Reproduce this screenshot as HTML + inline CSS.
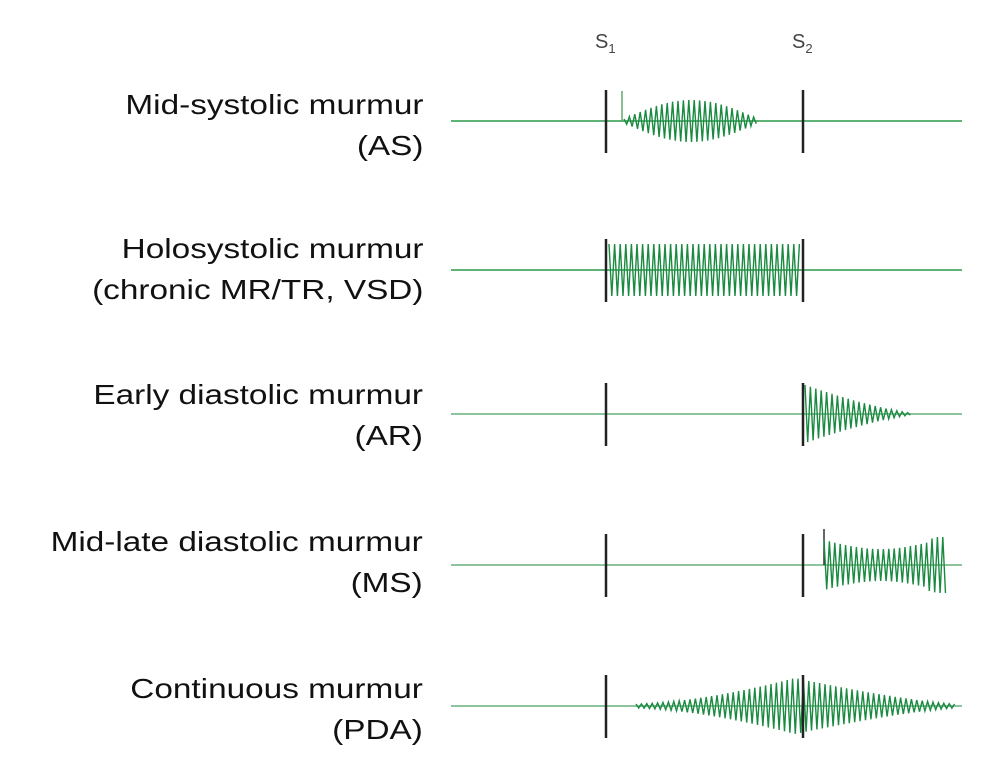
<!DOCTYPE html>
<html><head><meta charset="utf-8"><style>
body{margin:0;background:#fff;width:997px;height:782px;overflow:hidden;position:relative;font-family:"Liberation Sans","Noto Sans CJK KR",sans-serif}
.l{position:absolute;right:574px;text-align:right;font-size:28px;color:#111;line-height:41px;white-space:nowrap;transform:scaleX(1.19);transform-origin:right center}
</style></head><body>
<div class="l" style="top:84px">Mid-systolic murmur<br>(AS)</div>
<div class="l" style="top:228px">Holosystolic murmur<br>(chronic MR/TR, VSD)</div>
<div class="l" style="top:374px">Early diastolic murmur<br>(AR)</div>
<div class="l" style="top:521px">Mid-late diastolic murmur<br>(MS)</div>
<div class="l" style="top:668px">Continuous murmur<br>(PDA)</div>
<svg id="s" width="997" height="782" style="position:absolute;left:0;top:0">
<text x="595" y="48" font-size="20" fill="#444" font-family="Liberation Sans">S<tspan font-size="13" dy="5">1</tspan></text>
<text x="792" y="48" font-size="20" fill="#444" font-family="Liberation Sans">S<tspan font-size="13" dy="5">2</tspan></text>
</svg>
<script>
var s=document.getElementById('s'),NS='http://www.w3.org/2000/svg';
function el(t,a){var e=document.createElementNS(NS,t);for(var k in a)e.setAttribute(k,a[k]);s.appendChild(e);}
function zig(y,x0,x1,ampf,per){var p=[],i=0;for(var x=x0;x<=x1;x+=per/2){var a=ampf((x-x0)/(x1-x0));p.push(x.toFixed(1)+','+(y+(i%2?a:-a)).toFixed(1));i++;}
el('polyline',{points:p.join(' '),fill:'none',stroke:'#1a8a40','stroke-width':1.4});}
var rows=[121,270,414,565,706];
rows.forEach(function(y,i){el('line',{x1:451,x2:962,y1:y,y2:y,stroke:i<2?'#2a9a4a':'#8cc49c','stroke-width':i<2?1.5:2});});
el('line',{x1:622,x2:622,y1:91,y2:121,stroke:'#5aaa70','stroke-width':1.5});
zig(121,624,758,function(t){return 2+19*Math.sin(Math.PI*t);},5.4);
zig(270,609,800,function(t){return 26;},5.6);
zig(414,805,912,function(t){return 28*Math.pow(1-t,1.3)+1;},5.4);
el('line',{x1:824,x2:824,y1:529,y2:565,stroke:'#333','stroke-width':1.5});
zig(565,824,946,function(t){return 25-9*Math.sin(Math.PI*Math.min(t,0.93)/0.93)+(t>0.85?3:0);},5.4);
zig(706,636,955,function(t){var c=(795-636)/(955-636);return t<c?2+26*Math.pow(t/c,1.6):2+26*Math.pow((1-t)/(1-c),1.3);},5.4);
rows.forEach(function(y){el('line',{x1:606,x2:606,y1:y-31,y2:y+32,stroke:'#222','stroke-width':2.5});el('line',{x1:803,x2:803,y1:y-31,y2:y+32,stroke:'#222','stroke-width':2.5});});
</script>
</body></html>
